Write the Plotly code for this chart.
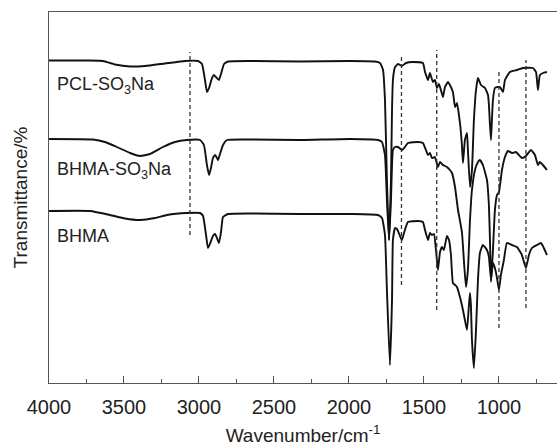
import plotly.graph_objects as go

# ---------------- data (wavenumber in cm-1, offset transmittance in arbitrary units) ----------------
pcl_wn = [4000, 3727, 3640, 3560, 3460, 3360, 3227, 3093, 3007, 2980, 2960, 2947, 2933, 2913, 2900,
          2887, 2867, 2853, 2833, 2807, 2660, 2327, 1993, 1827, 1793, 1773, 1760, 1747, 1733, 1720,
          1713, 1707, 1693, 1673, 1647, 1620, 1573, 1507, 1493, 1473, 1460, 1440, 1427, 1413, 1400,
          1387, 1373, 1360, 1340, 1327, 1307, 1293, 1280, 1260, 1247, 1240, 1227, 1213, 1207, 1193,
          1180, 1167, 1153, 1140, 1120, 1093, 1073, 1067, 1060, 1053, 1047, 1040, 1027, 1007, 993,
          973, 960, 927, 880, 840, 773, 753, 740, 727, 707, 680]
pcl_t = [322.5, 322.5, 322, 318.5, 316.5, 317, 319.5, 322, 322, 319, 303, 291, 295, 305, 308,
         306, 303, 309, 319, 321.5, 322, 321.5, 322, 321.5, 320, 313, 283, 203, 143, 203,
         273, 303, 316, 319, 317, 320, 321, 320, 311, 303, 310, 301, 303, 295, 299,
         293, 286, 296, 301, 298, 291, 276, 280, 260, 238, 220, 243, 250, 233, 196,
         213, 263, 293, 305, 298, 295, 288, 278, 258, 243, 263, 283, 295, 296, 296,
         291, 303, 311, 313, 315, 315, 311, 293, 308, 310, 311]

bso3_wn = [4000, 3707, 3627, 3547, 3460, 3393, 3327, 3240, 3160, 3080, 2993, 2967, 2947, 2933, 2920,
           2907, 2893, 2880, 2873, 2860, 2840, 2813, 2660, 2327, 1993, 1807, 1780, 1760, 1747, 1733,
           1720, 1713, 1707, 1693, 1673, 1647, 1627, 1607, 1540, 1507, 1487, 1473, 1460, 1447, 1427,
           1407, 1393, 1373, 1347, 1327, 1313, 1293, 1273, 1247, 1233, 1220, 1207, 1193, 1180, 1160,
           1140, 1127, 1107, 1080, 1067, 1060, 1053, 1040, 1027, 1013, 1000, 980, 960, 940, 913,
           887, 847, 820, 787, 760, 740, 727, 707, 680]
bso3_t = [244, 243.5, 241, 236, 230, 227, 229, 236, 241, 243, 243, 238, 218, 208, 215,
          225, 228, 225, 223, 229, 238, 243, 243.5, 243, 244, 243, 241, 228, 183, 143,
          183, 218, 233, 236, 236, 233, 236, 240, 241, 240, 233, 228, 230, 225, 226,
          216, 221, 218, 216, 213, 210, 196, 173, 151, 121, 96, 113, 163, 193, 213,
          221, 223, 218, 203, 178, 143, 101, 133, 173, 188, 191, 213, 226, 232, 230,
          231, 225, 227, 233, 228, 218, 221, 218, 213]

bhma_wn = [4000, 3727, 3593, 3493, 3393, 3293, 3213, 3080, 2993, 2973, 2953, 2940, 2927, 2907, 2893,
           2880, 2867, 2853, 2840, 2807, 2660, 2327, 1993, 1807, 1780, 1760, 1747, 1727, 1713, 1707,
           1693, 1680, 1660, 1647, 1633, 1607, 1540, 1507, 1493, 1473, 1460, 1447, 1433, 1420, 1407,
           1393, 1380, 1367, 1347, 1333, 1320, 1307, 1293, 1280, 1260, 1240, 1227, 1213, 1200, 1193,
           1187, 1180, 1167, 1153, 1140, 1127, 1107, 1080, 1067, 1053, 1040, 1027, 1013, 1000, 987,
           967, 947, 913, 880, 847, 820, 800, 780, 747, 720, 707, 680]
bhma_t = [172, 172, 168, 164.5, 163, 165, 168, 170, 170, 167, 148, 135, 139, 147, 149,
          145, 140, 151, 166, 169, 169.5, 169, 169, 168, 165, 148, 93, 18, 83, 143,
          155, 154, 147, 143, 150, 161, 162, 161, 153, 143, 150, 148, 149, 133, 113,
          131, 136, 133, 147, 143, 128, 100, 98, 96, 86, 73, 63, 53, 78, 90,
          78, 43, 15, 53, 103, 130, 138, 133, 126, 103, 120, 115, 105, 93, 108,
          123, 140, 138, 136, 128, 115, 128, 135, 138, 140, 137, 128]

series_names = ["PCL-SO<sub>3</sub>Na", "BHMA-SO<sub>3</sub>Na", "BHMA"]
label_wn = [3960, 3960, 3960]
label_t = [298, 213, 147]

dash_wn = [3060, 1650, 1415, 1000, 820]
dash_top = [331, 328, 333, 313, 323]
dash_bottom = [148, 98, 73, 55, 75]

x_ticks = [4000, 3500, 3000, 2500, 2000, 1500, 1000]
x_minor = [3750, 3250, 2750, 2250, 1750, 1250, 750]

# ---------------- figure ----------------
fig = go.Figure()
for wn, t in [(pcl_wn, pcl_t), (bso3_wn, bso3_t), (bhma_wn, bhma_t)]:
    fig.add_trace(go.Scatter(x=wn, y=t, mode="lines",
                             line=dict(color="#111111", width=1.9, shape="spline", smoothing=0.4),
                             showlegend=False, hoverinfo="skip"))

for xw, yt, yb in zip(dash_wn, dash_top, dash_bottom):
    fig.add_shape(type="line", xref="x", yref="y", x0=xw, x1=xw, y0=yb, y1=yt,
                  line=dict(color="#333333", width=1.3, dash="4px,3px"))

for name, xw, yt in zip(series_names, label_wn, label_t):
    fig.add_annotation(x=xw, y=yt, xref="x", yref="y", text=name, showarrow=False,
                       xanchor="left", yanchor="middle",
                       font=dict(family="Liberation Sans, Arial", size=18, color="#222222"))

fig.update_layout(
    width=557, height=448,
    margin=dict(l=49, r=0, t=12, b=65),
    paper_bgcolor="white", plot_bgcolor="white",
    font=dict(family="Liberation Sans, Arial", color="#222222"),
    xaxis=dict(range=[4000, 613], tickvals=x_ticks, ticktext=[str(v) for v in x_ticks],
               ticks="inside", ticklen=7, tickwidth=1, tickcolor="#555555",
               minor=dict(ticks="inside", ticklen=4, tickwidth=1, tickcolor="#555555",
                          tickvals=x_minor),
               showline=True, linecolor="#555555", linewidth=1, mirror=True,
               showgrid=False, zeroline=False, automargin=False,
               ticklabelstandoff=6,
               tickfont=dict(size=20, color="#222222"),
               title=dict(text="Wavenumber/cm<sup>-1</sup>", font=dict(size=19, color="#222222"),
                          standoff=11)),
    yaxis=dict(range=[0, 371], showticklabels=False, ticks="",
               showline=True, linecolor="#555555", linewidth=1,
               showgrid=False, zeroline=False, automargin=False,
               title=dict(text="Transmittance/%", font=dict(size=19, color="#222222"),
                          standoff=15)),
)

fig.write_html("out.html", config={"displayModeBar": False},
               post_script="document.body.style.margin='0';document.body.style.overflow='hidden';")
